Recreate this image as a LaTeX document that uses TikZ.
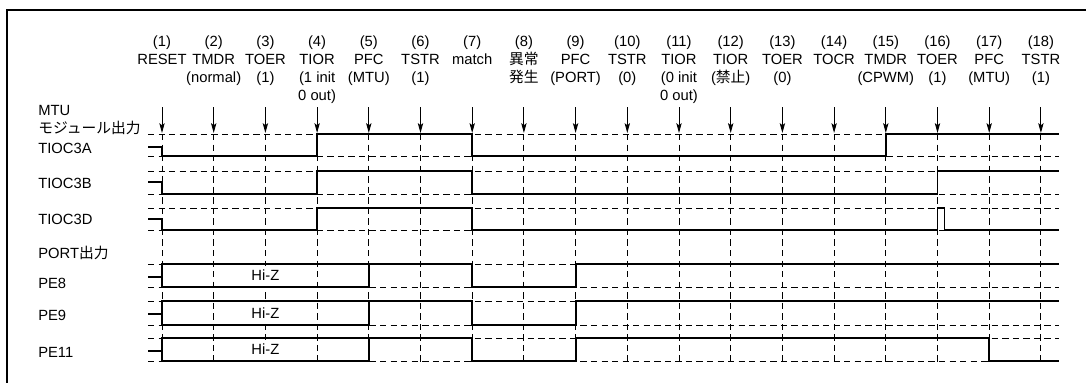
\documentclass[tikz,border=0pt]{standalone}
\usepackage{fontspec}
\setmainfont{Liberation Sans}
\newfontfamily\jpfont{Noto Sans CJK JP}
\usetikzlibrary{arrows.meta}

\begin{document}
\begin{tikzpicture}[
x=0.025cm, y=-0.025cm,
font=\fontsize{10.5}{12.8}\selectfont,
colhead/.style={anchor=north, align=center, inner sep=0pt},
siglabel/.style={anchor=west, inner sep=0pt},
refline/.style={line width=0.6pt, dash pattern=on 4.5pt off 3pt},
wave/.style={line width=1.3pt, line join=miter},
evarrow/.style={-{Stealth[length=7pt, width=3.8pt, inset=1.5pt]}, line width=0.65pt},
hiz/.style={fill=white, inner xsep=2pt, text height=7.5pt, text depth=0pt, minimum height=0.5cm}
]
\useasboundingbox (0,0) rectangle (1086,382);
\draw[line width=1.4pt] (7,400) |- (1100,10);

% column heads, arrows and time marks
\foreach \i/\txt in {1/RESET, 2/{TMDR\\(normal)}, 3/{TOER\\(1)}, 4/{TIOR\\(1 init\\0 out)},
  5/{PFC\\(MTU)}, 6/{TSTR\\(1)}, 7/match, 8/{{\jpfont 異常}\\{\jpfont 発生}},
  9/{PFC\\(PORT)}, 10/{TSTR\\(0)}, 11/{TIOR\\(0 init\\0 out)}, 12/{TIOR\\({\jpfont 禁止})},
  13/{TOER\\(0)}, 14/TOCR, 15/{TMDR\\(CPWM)}, 16/{TOER\\(1)}, 17/{PFC\\(MTU)}, 18/{TSTR\\(1)}}{
  \pgfmathsetmacro\xx{162+(\i-1)*51.7}
  \node[colhead] (h\i) at (\xx,36) {(\i)\\\txt};
  \coordinate (a\i) at (\xx,107);
  \coordinate (t\i) at (\xx,133);
  \draw[evarrow] (a\i) -- (t\i);
  \draw[refline] (\xx,134) -- (\xx,362);
}
\foreach \y in {134,156,171,194,208,230,264,287,301,325,338,361}
  \draw[refline] (148,\y) -- (1059,\y);

% signal names
\node[siglabel] (mtu) at (38,110) {MTU};
\node[siglabel] (mtuout) at (38,128) {\jpfont モジュール出力};
\node[siglabel] (tioca) at (38,148) {TIOC3A};
\node[siglabel] (tiocb) at (38,183) {TIOC3B};
\node[siglabel] (tiocd) at (38,219) {TIOC3D};
\node[siglabel] (port) at (38,253) {PORT{\jpfont 出力}};
\node[siglabel] (pe8) at (38,283) {PE8};
\node[siglabel] (pe9) at (38,315) {PE9};
\node[siglabel] (pe11) at (38,352) {PE11};

% MTU outputs
\draw[wave] (148,147) -- (162,147) -- (162,156) -- (317.1,156) -- (317.1,134)
  -- (472.2,134) -- (472.2,156) -- (885.8,156) -- (885.8,134) -- (1059,134);
\draw[wave] (148,182) -- (162,182) -- (162,194) -- (317.1,194) -- (317.1,171)
  -- (472.2,171) -- (472.2,194) -- (937.5,194) -- (937.5,171) -- (1059,171);
\draw[wave] (148,219) -- (162,219) -- (162,230) -- (317.1,230) -- (317.1,208)
  -- (472.2,208) -- (472.2,230) -- (937.5,230) -- (937.5,208) -- (944.5,208)
  -- (944.5,230) -- (1059,230);

% port outputs
\node[hiz] (hiz8) at (265.4,275.5) {Hi-Z};
\node[hiz] (hiz9) at (265.4,313) {Hi-Z};
\node[hiz] (hiz11) at (265.4,349.5) {Hi-Z};
\draw[wave] (148,277) -- (162,277) (162,264) rectangle (368.8,287)
  (368.8,264) -- (472.2,264) -- (472.2,287) -- (575.6,287) -- (575.6,264) -- (1059,264);
\draw[wave] (148,314) -- (162,314) (162,301) rectangle (368.8,325)
  (368.8,301) -- (472.2,301) -- (472.2,325) -- (575.6,325) -- (575.6,301) -- (1059,301);
\draw[wave] (148,351) -- (162,351) (162,338) rectangle (368.8,361)
  (368.8,338) -- (472.2,338) -- (472.2,361) -- (575.6,361) -- (575.6,338)
  -- (989.2,338) -- (989.2,361) -- (1059,361);
\end{tikzpicture}
\end{document}
